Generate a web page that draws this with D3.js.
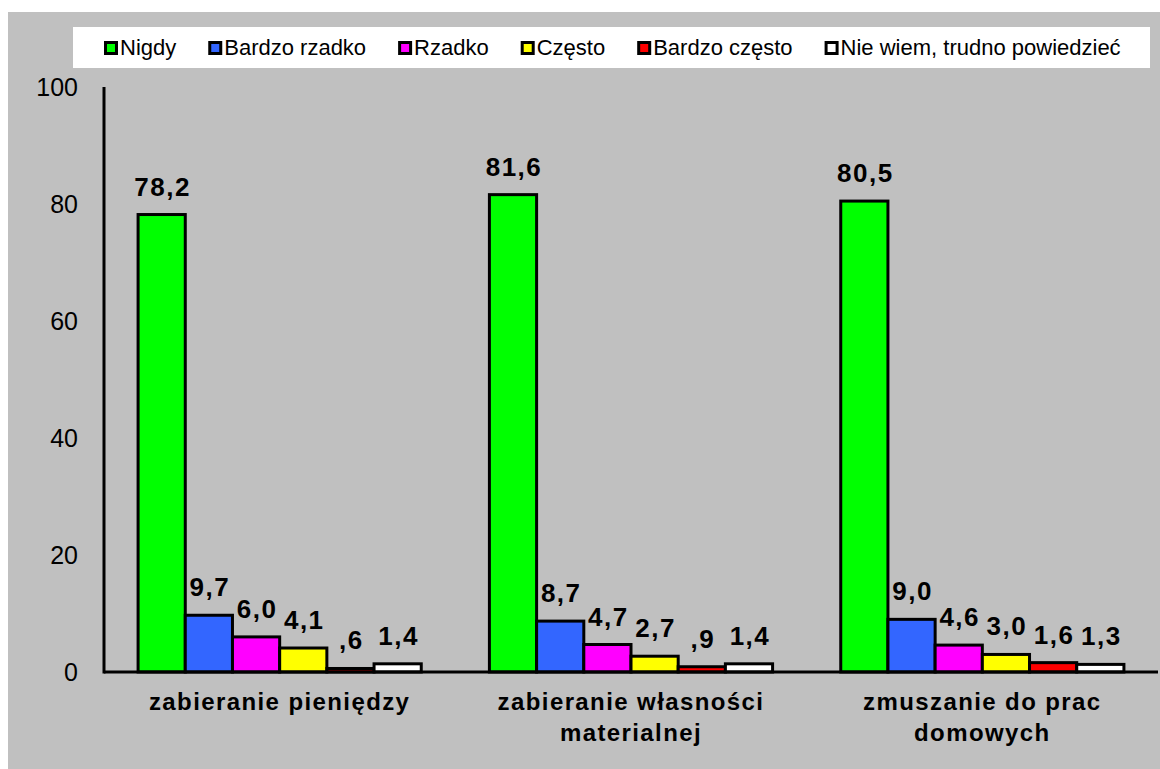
<!DOCTYPE html>
<html>
<head>
<meta charset="utf-8">
<script src="https://cdn.jsdelivr.net/npm/d3@7"></script>
<style>
  body { margin: 0; background: #ffffff; }
  text { font-family: "Liberation Sans", Arial, sans-serif; }
</style>
</head>
<body>
<div id="chart"></div>
<script>
// Data
const categories = ["zabieranie pieniędzy", "zabieranie własności materialnej", "zmuszanie do prac domowych"];
const seriesNames = ["Nigdy", "Bardzo rzadko", "Rzadko", "Często", "Bardzo często", "Nie wiem, trudno powiedzieć"];
const seriesColors = ["#00ff00", "#3366ff", "#ff00ff", "#ffff00", "#ff0000", "#ffffff"];
const nigdy = [78.2, 81.6, 80.5];
const bardzoRzadko = [9.7, 8.7, 9.0];
const rzadko = [6.0, 4.7, 4.6];
const czesto = [4.1, 2.7, 3.0];
const bardzoCzesto = [0.6, 0.9, 1.6];
const nieWiem = [1.4, 1.4, 1.3];
const yTicks = [0, 20, 40, 60, 80, 100];

const seriesValues = [nigdy, bardzoRzadko, rzadko, czesto, bardzoCzesto, nieWiem];

const W = 1160, H = 769;

const svg = d3.select("#chart")
  .append("svg")
    .attr("width", W)
    .attr("height", H);

// gray panel
svg.append("rect")
  .attr("x", 8).attr("y", 12)
  .attr("width", W - 8).attr("height", H - 12)
  .attr("fill", "#c0c0c0");

// Scales
const x0 = d3.scaleBand()
  .domain(categories)
  .range([104, 1158])
  .paddingInner(0.194)
  .paddingOuter(0.097);

const x1 = d3.scaleBand()
  .domain(seriesNames)
  .range([0, x0.bandwidth()]);

const y = d3.scaleLinear()
  .domain([0, 100])
  .range([672, 87]);

// Y tick labels (no tick marks)
svg.append("g")
  .selectAll("text")
  .data(yTicks)
  .join("text")
    .attr("x", 78)
    .attr("y", d => y(d))
    .attr("dy", "0.36em")
    .attr("text-anchor", "end")
    .style("font-size", "25px")
    .text(d => d);

// Bars
const fmt = v => {
  const s = v.toFixed(1).replace(".", ",");
  return s.startsWith("0,") ? s.slice(1) : s;
};

const rows = [];
categories.forEach((c, i) => {
  seriesNames.forEach((s, j) => {
    rows.push({cat: c, series: s, value: seriesValues[j][i], color: seriesColors[j]});
  });
});

svg.append("g")
  .selectAll("rect")
  .data(rows)
  .join("rect")
    .attr("x", d => x0(d.cat) + x1(d.series))
    .attr("y", d => y(d.value))
    .attr("width", x1.bandwidth())
    .attr("height", d => y(0) - y(d.value))
    .attr("fill", d => d.color)
    .attr("stroke", "#000")
    .attr("stroke-width", 3);

// value labels
svg.append("g")
  .selectAll("text")
  .data(rows)
  .join("text")
    .attr("x", d => x0(d.cat) + x1(d.series) + x1.bandwidth() / 2 + 1)
    .attr("y", d => y(d.value) - 19)
    .attr("text-anchor", "middle")
    .style("font-size", "26px")
    .style("font-weight", "bold")
    .style("letter-spacing", "1.5px")
    .text(d => fmt(d.value));

// Axes lines
svg.append("line")
  .attr("x1", 104).attr("x2", 104)
  .attr("y1", y(100)).attr("y2", y(0) + 1.5)
  .attr("stroke", "#000").attr("stroke-width", 3);
svg.append("line")
  .attr("x1", 104).attr("x2", 1158)
  .attr("y1", y(0)).attr("y2", y(0))
  .attr("stroke", "#000").attr("stroke-width", 3);

// Category labels, wrapped
const catG = svg.append("g");
categories.forEach(c => {
  const t = catG.append("text")
    .attr("x", x0(c) + x0.bandwidth() / 2)
    .attr("y", 710)
    .attr("text-anchor", "middle")
    .style("font-size", "24px")
    .style("font-weight", "bold")
    .style("letter-spacing", "1.4px");
  const words = c.split(" ");
  let line = [];
  let lineNo = 0;
  let tspan = t.append("tspan").attr("x", x0(c) + x0.bandwidth() / 2).attr("dy", 0);
  words.forEach(w => {
    line.push(w);
    tspan.text(line.join(" "));
    if (tspan.node().getComputedTextLength() > 300 && line.length > 1) {
      line.pop();
      tspan.text(line.join(" "));
      line = [w];
      lineNo++;
      tspan = t.append("tspan")
        .attr("x", x0(c) + x0.bandwidth() / 2)
        .attr("dy", 31)
        .text(w);
    }
  });
});

// Legend
svg.append("rect")
  .attr("x", 73).attr("y", 27)
  .attr("width", 1077).attr("height", 41)
  .attr("fill", "#fff");

const legend = svg.append("g");
let lx = 104;
seriesNames.forEach((s, j) => {
  legend.append("rect")
    .attr("x", lx + 1.5).attr("y", 42.5)
    .attr("width", 11).attr("height", 11)
    .attr("fill", seriesColors[j])
    .attr("stroke", "#000")
    .attr("stroke-width", 3);
  const t = legend.append("text")
    .attr("x", lx + 16)
    .attr("y", 55)
    .style("font-size", "22px")
    .text(s);
  lx += 16 + t.node().getComputedTextLength() + 32;
});
</script>
</body>
</html>
